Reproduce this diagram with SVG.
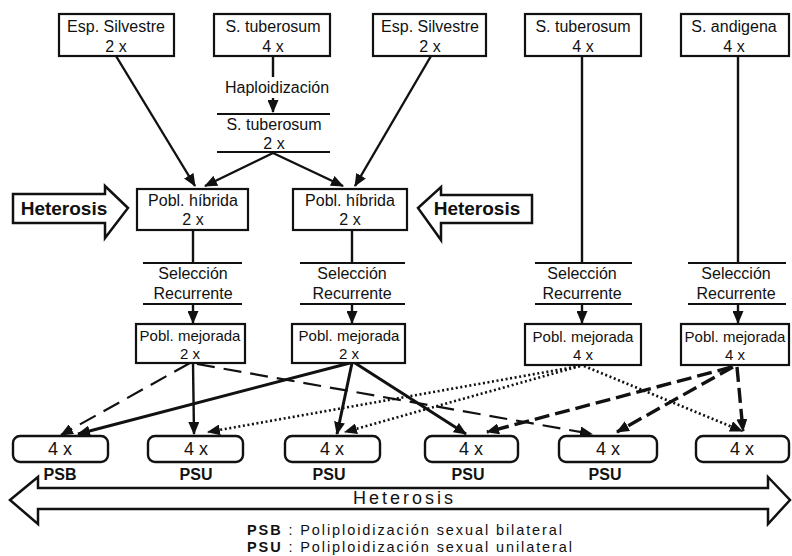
<svg xmlns="http://www.w3.org/2000/svg" width="792" height="556" viewBox="0 0 792 556">
<style>
  .box{fill:#fff;stroke:#111;stroke-width:2.2}
  .rbox{fill:#fff;stroke:#111;stroke-width:2.4}
  .t{font-family:"Liberation Sans",Arial,sans-serif;font-size:16px;fill:#111;text-anchor:middle}
  .tm{font-family:"Liberation Sans",Arial,sans-serif;font-size:15px;fill:#111;text-anchor:middle}
  .b{font-family:"Liberation Sans",Arial,sans-serif;font-size:19px;font-weight:bold;fill:#111;text-anchor:middle}
  .f{font-family:"Liberation Sans",Arial,sans-serif;font-size:18px;fill:#111;text-anchor:middle}
  .lb{font-family:"Liberation Sans",Arial,sans-serif;font-size:16px;font-weight:bold;fill:#111;text-anchor:middle}
  .bar{stroke:#111;stroke-width:2}
  .ln{fill:none;stroke:#111;stroke-width:2.4}
  .arr{fill:none;stroke:#111;stroke-width:2.4;marker-end:url(#ah)}
  .thick{stroke-width:3}
  .dthin{fill:none;stroke:#111;stroke-width:2.2;stroke-dasharray:18 9;marker-end:url(#ah)}
  .dthick{fill:none;stroke:#111;stroke-width:3.4;stroke-dasharray:15 6;marker-end:url(#ah)}
  .dot{fill:none;stroke:#111;stroke-width:2.6;stroke-dasharray:2 2.6;marker-end:url(#ah)}
  .big{fill:#fff;stroke:#111;stroke-width:2.5;stroke-linejoin:miter}
</style>
<defs>
  <marker id="ah" markerUnits="userSpaceOnUse" markerWidth="13" markerHeight="11" refX="12" refY="5.5" orient="auto">
    <path d="M0,0 L13,5.5 L0,11 z" fill="#111"/>
  </marker>
</defs>
<rect width="792" height="556" fill="#fff"/>

<g id="connectors">
  <path class="arr" d="M116,56 L195,186"/>
  <path class="ln" d="M273,56 L273,77"/>
  <path class="arr" d="M273,98 L273,112"/>
  <path class="arr" d="M273,153 L205,186"/>
  <path class="arr" d="M273,153 L343,186"/>
  <path class="arr" d="M431,56 L355,186"/>

  <path class="ln" d="M193,230 L193,263"/>
  <path class="arr" d="M193,304 L193,323"/>
  <path class="ln" d="M352,230 L352,263"/>
  <path class="arr" d="M352,304 L352,323"/>
  <path class="ln" d="M582,56 L582,263"/>
  <path class="arr" d="M582,304 L582,323"/>
  <path class="ln" d="M738,56 L738,263"/>
  <path class="arr" d="M738,304 L738,323"/>

  <path class="dthin" d="M190,363 L61,435"/>
  <path class="arr" d="M193,363 L194,434"/>
  <path class="dthin" d="M197,364 L592,434"/>

  <path class="arr thick" d="M350,363 L78,434"/>
  <path class="arr thick" d="M352,363 L337,434"/>
  <path class="arr thick" d="M355,363 L466,434"/>

  <path class="dot" d="M580,366 L208,432"/>
  <path class="dot" d="M580,366 L345,432"/>
  <path class="dot" d="M584,366 L742,431"/>

  <path class="dthick" d="M732,367 L487,432"/>
  <path class="dthick" d="M733,367 L617,432"/>
  <path class="dthick" d="M737,367 L743,431"/>
</g>

<g id="n-silvestre1">
  <rect class="box" x="59" y="14" width="115" height="42"/>
  <text class="t" x="116" y="32">Esp. Silvestre</text>
  <text class="t" x="116" y="52">2 x</text>
</g>
<g id="n-tuberosum4x-a">
  <rect class="box" x="214" y="14" width="116" height="42"/>
  <text class="t" x="273" y="32">S. tuberosum</text>
  <text class="t" x="273" y="52">4 x</text>
</g>
<g id="n-silvestre2">
  <rect class="box" x="373" y="14" width="113" height="42"/>
  <text class="t" x="430" y="32">Esp. Silvestre</text>
  <text class="t" x="430" y="52">2 x</text>
</g>
<g id="n-tuberosum4x-b">
  <rect class="box" x="525" y="14" width="116" height="42"/>
  <text class="t" x="583" y="32">S. tuberosum</text>
  <text class="t" x="583" y="52">4 x</text>
</g>
<g id="n-andigena">
  <rect class="box" x="681" y="14" width="108" height="42"/>
  <text class="t" x="734" y="32">S. andigena</text>
  <text class="t" x="734" y="52">4 x</text>
</g>

<g id="n-haploidizacion">
  <text class="t" x="277" y="93" font-size="17">Haploidización</text>
</g>
<g id="n-tuberosum2x">
  <line class="bar" x1="217" y1="114" x2="330" y2="114"/>
  <text class="t" x="274" y="130">S. tuberosum</text>
  <text class="t" x="274" y="149">2 x</text>
  <line class="bar" x1="217" y1="152" x2="330" y2="152"/>
</g>

<g id="n-heterosis-left">
  <path class="big" d="M13,194 L105,194 L105,186 L128,208 L105,238 L105,223 L13,223 Z"/>
  <text class="b" x="64" y="215">Heterosis</text>
</g>
<g id="n-heterosis-right">
  <path class="big" d="M532,195 L441,195 L441,187 L418,208 L441,240 L441,223 L532,223 Z"/>
  <text class="b" x="477" y="215">Heterosis</text>
</g>

<g id="n-hibrida1">
  <rect class="box" x="137" y="189" width="111" height="41"/>
  <text class="t" x="193" y="206">Pobl. híbrida</text>
  <text class="t" x="193" y="225">2 x</text>
</g>
<g id="n-hibrida2">
  <rect class="box" x="293" y="189" width="114" height="41"/>
  <text class="t" x="350" y="206">Pobl. híbrida</text>
  <text class="t" x="350" y="225">2 x</text>
</g>

<g id="n-seleccion1">
  <line class="bar" x1="143" y1="263" x2="242" y2="263"/>
  <text class="t" x="193" y="279">Selección</text>
  <text class="t" x="193" y="299">Recurrente</text>
  <line class="bar" x1="143" y1="304" x2="242" y2="304"/>
</g>
<g id="n-seleccion2">
  <line class="bar" x1="300" y1="263" x2="405" y2="263"/>
  <text class="t" x="352" y="279">Selección</text>
  <text class="t" x="352" y="299">Recurrente</text>
  <line class="bar" x1="300" y1="304" x2="405" y2="304"/>
</g>
<g id="n-seleccion3">
  <line class="bar" x1="535" y1="263" x2="632" y2="263"/>
  <text class="t" x="582" y="279">Selección</text>
  <text class="t" x="582" y="299">Recurrente</text>
  <line class="bar" x1="535" y1="304" x2="632" y2="304"/>
</g>
<g id="n-seleccion4">
  <line class="bar" x1="688" y1="263" x2="786" y2="263"/>
  <text class="t" x="736" y="279">Selección</text>
  <text class="t" x="736" y="299">Recurrente</text>
  <line class="bar" x1="688" y1="304" x2="786" y2="304"/>
</g>

<g id="n-mejorada1">
  <rect class="box" x="136" y="324" width="109" height="39"/>
  <text class="tm" x="190" y="341">Pobl. mejorada</text>
  <text class="tm" x="190" y="359">2 x</text>
</g>
<g id="n-mejorada2">
  <rect class="box" x="292" y="324" width="113" height="39"/>
  <text class="tm" x="349" y="341">Pobl. mejorada</text>
  <text class="tm" x="349" y="359">2 x</text>
</g>
<g id="n-mejorada3">
  <rect class="box" x="525" y="324" width="116" height="41"/>
  <text class="tm" x="583" y="342">Pobl. mejorada</text>
  <text class="tm" x="583" y="360">4 x</text>
</g>
<g id="n-mejorada4">
  <rect class="box" x="681" y="324" width="108" height="41"/>
  <text class="tm" x="735" y="342">Pobl. mejorada</text>
  <text class="tm" x="735" y="360">4 x</text>
</g>

<g id="n-4x-1">
  <rect class="rbox" x="13" y="436" width="95" height="26" rx="7"/>
  <text class="f" x="60" y="455">4 x</text>
  <text class="lb" x="60" y="480">PSB</text>
</g>
<g id="n-4x-2">
  <rect class="rbox" x="148" y="436" width="95" height="26" rx="7"/>
  <text class="f" x="196" y="455">4 x</text>
  <text class="lb" x="196" y="480">PSU</text>
</g>
<g id="n-4x-3">
  <rect class="rbox" x="285" y="436" width="95" height="26" rx="7"/>
  <text class="f" x="332" y="455">4 x</text>
  <text class="lb" x="329" y="480">PSU</text>
</g>
<g id="n-4x-4">
  <rect class="rbox" x="425" y="436" width="93" height="26" rx="7"/>
  <text class="f" x="471" y="455">4 x</text>
  <text class="lb" x="468" y="480">PSU</text>
</g>
<g id="n-4x-5">
  <rect class="rbox" x="559" y="436" width="98" height="26" rx="7"/>
  <text class="f" x="608" y="455">4 x</text>
  <text class="lb" x="605" y="480">PSU</text>
</g>
<g id="n-4x-6">
  <rect class="rbox" x="696" y="436" width="93" height="26" rx="7"/>
  <text class="f" x="742" y="455">4 x</text>
</g>

<g id="n-heterosis-bottom">
  <path class="big" d="M10,500 L38,477 L38,488 L768,488 L768,477 L790,500 L768,524 L768,509 L38,509 L38,524 Z"/>
  <text class="f" x="403" y="504" textLength="100" lengthAdjust="spacing">Heterosis</text>
</g>

<g id="legend" font-family="Liberation Sans, Arial, sans-serif" font-size="14.5" fill="#111">
  <text x="247" y="535" textLength="315" lengthAdjust="spacing"><tspan font-weight="bold">PSB</tspan> : Poliploidización sexual bilateral</text>
  <text x="247" y="552" textLength="325" lengthAdjust="spacing"><tspan font-weight="bold">PSU</tspan> : Poliploidización sexual unilateral</text>
</g>
</svg>
